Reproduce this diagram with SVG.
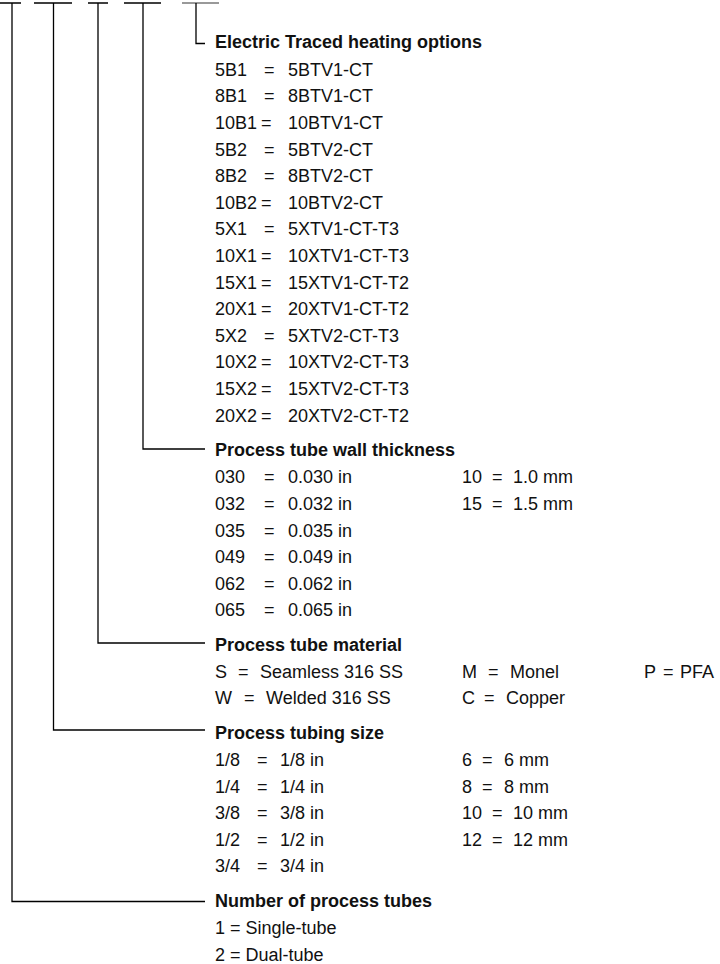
<svg xmlns="http://www.w3.org/2000/svg" width="720" height="964" viewBox="0 0 720 964">
<style>
.t{font-family:"Liberation Sans",Arial,sans-serif;font-size:18px;fill:#111}
.h{font-weight:bold}
.c{fill:none;stroke:#000;stroke-width:1.3}
.g{fill:none;stroke:#777;stroke-width:1.6}
</style>
<rect width="720" height="964" fill="#fff"/>
<g id="connectors">
<path class="c" d="M0 3H21M34 3H72M88 3H108M124 3H161"/>
<path class="g" d="M182 3H219"/>
<path class="c" d="M196 3V43.5H205"/>
<path class="c" d="M143 3V449H205"/>
<path class="c" d="M98 3V643H205"/>
<path class="c" d="M53.5 3V730H205"/>
<path class="c" d="M12 3V901.5H205"/>
</g>
<g id="heating" class="t">
<text class="t h" x="215" y="48">Electric Traced heating options</text>
<g class="t">
<text x="215" y="75.7">5B1</text><text x="264" y="75.7">=</text><text x="288" y="75.7">5BTV1-CT</text>
<text x="215" y="102.3">8B1</text><text x="264" y="102.3">=</text><text x="288" y="102.3">8BTV1-CT</text>
<text x="215" y="128.9">10B1</text><text x="261" y="128.9">=</text><text x="288" y="128.9">10BTV1-CT</text>
<text x="215" y="155.5">5B2</text><text x="264" y="155.5">=</text><text x="288" y="155.5">5BTV2-CT</text>
<text x="215" y="182.1">8B2</text><text x="264" y="182.1">=</text><text x="288" y="182.1">8BTV2-CT</text>
<text x="215" y="208.7">10B2</text><text x="261" y="208.7">=</text><text x="288" y="208.7">10BTV2-CT</text>
<text x="215" y="235.3">5X1</text><text x="264" y="235.3">=</text><text x="288" y="235.3">5XTV1-CT-T3</text>
<text x="215" y="261.9">10X1</text><text x="261" y="261.9">=</text><text x="288" y="261.9">10XTV1-CT-T3</text>
<text x="215" y="288.5">15X1</text><text x="261" y="288.5">=</text><text x="288" y="288.5">15XTV1-CT-T2</text>
<text x="215" y="315.1">20X1</text><text x="261" y="315.1">=</text><text x="288" y="315.1">20XTV1-CT-T2</text>
<text x="215" y="341.7">5X2</text><text x="264" y="341.7">=</text><text x="288" y="341.7">5XTV2-CT-T3</text>
<text x="215" y="368.3">10X2</text><text x="261" y="368.3">=</text><text x="288" y="368.3">10XTV2-CT-T3</text>
<text x="215" y="394.9">15X2</text><text x="261" y="394.9">=</text><text x="288" y="394.9">15XTV2-CT-T3</text>
<text x="215" y="421.5">20X2</text><text x="261" y="421.5">=</text><text x="288" y="421.5">20XTV2-CT-T2</text>
</g>
</g>
<g id="wall-thickness">
<text class="t h" x="215" y="456">Process tube wall thickness</text>
<g class="t">
<text x="215" y="483.3">030</text><text x="264" y="483.3">=</text><text x="288" y="483.3">0.030 in</text>
<text x="215" y="509.9">032</text><text x="264" y="509.9">=</text><text x="288" y="509.9">0.032 in</text>
<text x="215" y="536.5">035</text><text x="264" y="536.5">=</text><text x="288" y="536.5">0.035 in</text>
<text x="215" y="563.1">049</text><text x="264" y="563.1">=</text><text x="288" y="563.1">0.049 in</text>
<text x="215" y="589.7">062</text><text x="264" y="589.7">=</text><text x="288" y="589.7">0.062 in</text>
<text x="215" y="616.3">065</text><text x="264" y="616.3">=</text><text x="288" y="616.3">0.065 in</text>
<text x="462" y="483.3">10</text><text x="492" y="483.3">=</text><text x="513" y="483.3">1.0 mm</text>
<text x="462" y="509.9">15</text><text x="492" y="509.9">=</text><text x="513" y="509.9">1.5 mm</text>
</g>
</g>
<g id="material">
<text class="t h" x="215" y="650.6">Process tube material</text>
<g class="t">
<text x="215" y="677.5">S</text><text x="238" y="677.5">=</text><text x="260" y="677.5">Seamless 316 SS</text>
<text x="215" y="704">W</text><text x="244" y="704">=</text><text x="266" y="704">Welded 316 SS</text>
<text x="462" y="677.5">M</text><text x="488" y="677.5">=</text><text x="510" y="677.5">Monel</text>
<text x="462" y="704">C</text><text x="484" y="704">=</text><text x="506" y="704">Copper</text>
<text x="644" y="677.5">P</text><text x="663" y="677.5">=</text><text x="680" y="677.5">PFA</text>
</g>
</g>
<g id="tubing-size">
<text class="t h" x="215" y="739">Process tubing size</text>
<g class="t">
<text x="215" y="766">1/8</text><text x="257" y="766">=</text><text x="280" y="766">1/8 in</text>
<text x="215" y="792.6">1/4</text><text x="257" y="792.6">=</text><text x="280" y="792.6">1/4 in</text>
<text x="215" y="819.2">3/8</text><text x="257" y="819.2">=</text><text x="280" y="819.2">3/8 in</text>
<text x="215" y="845.8">1/2</text><text x="257" y="845.8">=</text><text x="280" y="845.8">1/2 in</text>
<text x="215" y="872.4">3/4</text><text x="257" y="872.4">=</text><text x="280" y="872.4">3/4 in</text>
<text x="462" y="766">6</text><text x="482" y="766">=</text><text x="504" y="766">6 mm</text>
<text x="462" y="792.6">8</text><text x="482" y="792.6">=</text><text x="504" y="792.6">8 mm</text>
<text x="462" y="819.2">10</text><text x="492" y="819.2">=</text><text x="513" y="819.2">10 mm</text>
<text x="462" y="845.8">12</text><text x="492" y="845.8">=</text><text x="513" y="845.8">12 mm</text>
</g>
</g>
<g id="tube-count">
<text class="t h" x="215" y="907">Number of process tubes</text>
<text class="t" x="215" y="934">1 = Single-tube</text>
<text class="t" x="215" y="960.6">2 = Dual-tube</text>
</g>
</svg>
